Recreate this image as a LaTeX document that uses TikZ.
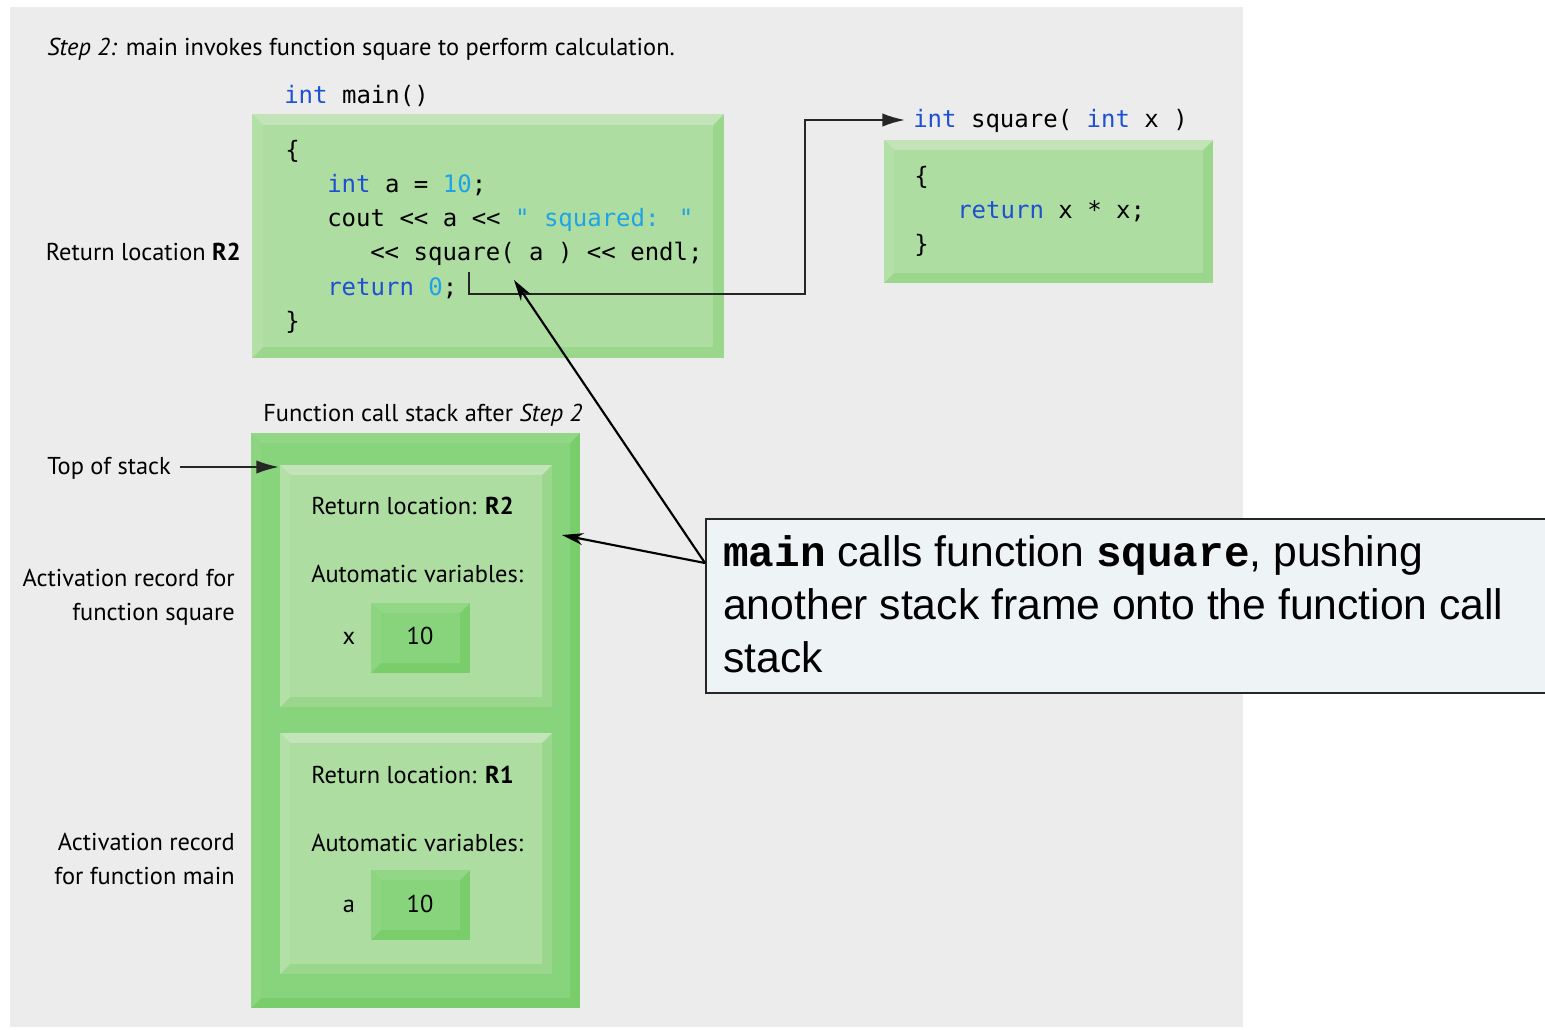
\documentclass[tikz,border=0pt]{standalone}
\usepackage{fontspec}
\setmainfont{PT Sans}
\newfontfamily\codefont{DejaVu Sans Mono}
\newfontfamily\callfont{Liberation Sans}
\newfontfamily\callmono{Liberation Mono}
\usetikzlibrary{arrows.meta}
\definecolor{bgpanel}{HTML}{EBECEB}
\definecolor{gface}{HTML}{ADDDA0}
\definecolor{gtop}{HTML}{C3E4B8}
\definecolor{gleft}{HTML}{B3E0A7}
\definecolor{gdark}{HTML}{9AD78D}
\definecolor{sface}{HTML}{88D47C}
\definecolor{stop}{HTML}{92D786}
\definecolor{sleft}{HTML}{8DD581}
\definecolor{sdark}{HTML}{79CE6B}
\definecolor{kwblue}{HTML}{1E50D2}
\definecolor{litblue}{HTML}{1FA3E6}
\definecolor{callbg}{HTML}{EEF3F6}
\newcommand{\kw}[1]{\textcolor{kwblue}{#1}}
\newcommand{\lit}[1]{\textcolor{litblue}{#1}}
% x1 y1 x2 y2 bevel top left face dark
\newcommand{\bevelbox}[9]{%
  \fill[#9] (#1,#2) rectangle (#3,#4);
  \fill[#6] (#1,#2) -- (#3,#2) -- ({#3-#5},{#2+#5}) -- ({#1+#5},{#2+#5}) -- cycle;
  \fill[#7] (#1,#2) -- ({#1+#5},{#2+#5}) -- ({#1+#5},{#4-#5}) -- (#1,#4) -- cycle;
  \fill[#8] ({#1+#5},{#2+#5}) rectangle ({#3-#5},{#4-#5});
}
\tikzset{
  lbl/.style={inner sep=0pt, font=\fontsize{18.3}{22}\selectfont},
  code/.style={inner sep=0pt, font=\codefont\fontsize{18}{22}\selectfont},
  callarrow/.style={draw=black, line width=1.6pt, -{Stealth[length=16pt,width=9pt]}},
  ptrarrow/.style={draw=black!85, line width=1.4pt, -{Latex[length=17pt,width=10pt]}}
}
\begin{document}
\begin{tikzpicture}[x=0.75pt,y=-0.75pt]
\useasboundingbox (0,0) rectangle (1545,1029);
\fill[white] (0,0) rectangle (1545,1029);
\fill[bgpanel] (10,7) rectangle (1243,1027);

% main code box
\bevelbox{252}{114}{724}{358}{11}{gtop}{gleft}{gface}{gdark}
% square code box
\bevelbox{884}{140}{1213}{283}{10}{gtop}{gleft}{gface}{gdark}
% stack outer
\bevelbox{251}{433}{580}{1008}{10}{stop}{sleft}{sface}{sdark}
% frame 1
\bevelbox{280}{465}{552}{707}{10}{gtop}{gleft}{gface}{gdark}
% frame 2
\bevelbox{280}{733}{552}{974}{10}{gtop}{gleft}{gface}{gdark}
% variable boxes
\bevelbox{371}{603}{470}{673}{10}{stop}{sleft}{sface}{sdark}
\bevelbox{371}{870}{470}{940}{10}{stop}{sleft}{sface}{sdark}

% title
\node[lbl, anchor=base west] (title) at (47,55) {\textit{Step 2:} main invokes function square to perform calculation.};

% main code
\node[code, anchor=base west] (mainhead) at (284,103) {\kw{int} main()};
\node[code, anchor=base west] (c1) at (285,158) {\{};
\node[code, anchor=base west] (c2) at (327,192) {\kw{int} a = \lit{10};};
\node[code, anchor=base west] (c3) at (327,226) {cout << a << \lit{\symbol{34} squared: \symbol{34}}};
\node[code, anchor=base west] (c4) at (370,260) {<< square( a ) << endl;};
\node[code, anchor=base west] (c5) at (327,295) {\kw{return} \lit{0};};
\node[code, anchor=base west] (c6) at (285,329) {\}};

% square code
\node[code, anchor=base west] (sqhead) at (913,127) {\kw{int} square( \kw{int} x )};
\node[code, anchor=base west] (s1) at (914,184) {\{};
\node[code, anchor=base west] (s2) at (957,218) {\kw{return} x * x;};
\node[code, anchor=base west] (s3) at (914,252) {\}};

% left labels
\node[lbl, anchor=base east] (rl) at (241,260) {Return location \textbf{R2}};
\node[lbl, anchor=base west] (fcs) at (263,421) {Function call stack after \textit{Step 2}};
\node[lbl, anchor=base west] (tos) at (47,474) {Top of stack};
\node[lbl, anchor=base east] (ar1a) at (235,586) {Activation record for};
\node[lbl, anchor=base east] (ar1b) at (235,620) {function square};
\node[lbl, anchor=base east] (ar2a) at (235,850) {Activation record};
\node[lbl, anchor=base east] (ar2b) at (235,884) {for function main};

% frame texts
\node[lbl, anchor=base west] (f1r) at (311,514) {Return location: \textbf{R2}};
\node[lbl, anchor=base west] (f1a) at (311,582) {Automatic variables:};
\node[lbl, anchor=base] (f1x) at (349,644) {x};
\node[lbl, anchor=base] (f1v) at (420,644) {10};
\node[lbl, anchor=base west] (f2r) at (311,783) {Return location: \textbf{R1}};
\node[lbl, anchor=base west] (f2a) at (311,851) {Automatic variables:};
\node[lbl, anchor=base] (f2x) at (349,912) {a};
\node[lbl, anchor=base] (f2v) at (420,912) {10};

% callout
\node[draw=black!85, line width=1.4pt, fill=callbg, anchor=north west, minimum width=840*0.75pt, minimum height=174*0.75pt, inner sep=0pt] (callout) at (705,518) {};
\node[inner sep=0pt, anchor=base west, font=\callfont\fontsize{32}{39.75}\selectfont] (cl1) at (723,566)
  {{\callmono\bfseries main} calls function {\callmono\bfseries square}, pushing};
\node[inner sep=0pt, anchor=base west, font=\callfont\fontsize{32}{39.75}\selectfont] (cl2) at (723,619)
  {another stack frame onto the function call};
\node[inner sep=0pt, anchor=base west, font=\callfont\fontsize{32}{39.75}\selectfont] (cl3) at (723,672)
  {stack};

% connectors
\coordinate (retpt) at (469,272);
\coordinate (retbend1) at (469,294);
\coordinate (retbend2) at (805,294);
\coordinate (retbend3) at (805,120);
\draw[ptrarrow] (retpt) -- (retbend1) -- (retbend2) -- (retbend3) -- ([xshift=-6pt]sqhead.west |- retbend3);
\coordinate (stacktop) at (279,467);
\coordinate (tosstart) at (180,467);
\draw[ptrarrow] (tosstart) -- (stacktop);
\coordinate (cfrom) at (705,563);
\coordinate (tipcode) at (514,280);
\coordinate (tipstack) at (562,535);
\draw[callarrow] (cfrom) -- (tipcode);
\draw[callarrow] (cfrom) -- (tipstack);
\end{tikzpicture}
\end{document}
